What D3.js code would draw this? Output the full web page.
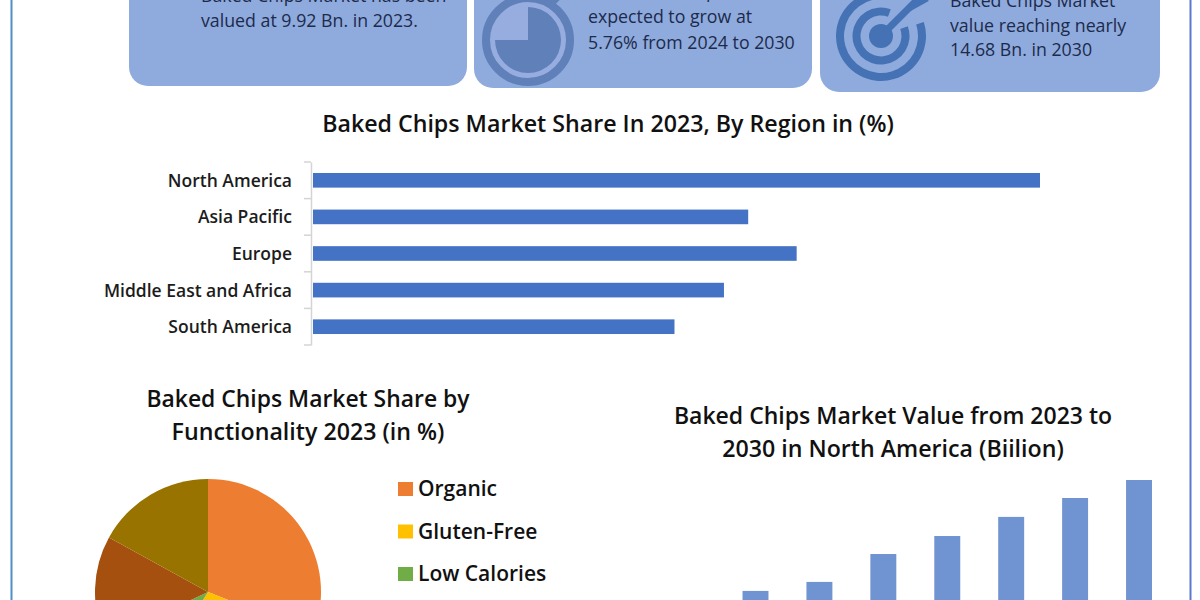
<!DOCTYPE html>
<html><head><meta charset="utf-8">
<script src="https://cdn.jsdelivr.net/npm/d3@7/dist/d3.min.js"></script>
<style>html,body{margin:0;background:#fff}svg{display:block}text{font-family:"Open Sans","Noto Sans",sans-serif}</style>
</head><body><svg id="c" width="1200" height="600"></svg>
<script>
const regions=["North America","Asia Pacific","Europe","Middle East and Africa","South America"];
const regionValues=[36,21.55,23.95,20.35,17.9];
const functionalityValues=[31,28,9,15,17];
const legendLabels=["Organic","Gluten-Free","Low Calories"];
const years=["2023","2024","2025","2026","2027","2028","2029","2030"];
const yearValues=[2.4,3.07,3.47,4.71,5.51,6.36,7.2,8.0];
const pieColors=["#ed7d31","#ffc000","#70ad47","#a5500f","#997300"];
const svg=d3.select("#c");
// frame
svg.append("line").attr("x1",11.5).attr("x2",11.5).attr("y1",0).attr("y2",600).attr("stroke","#4f8fc6").attr("stroke-width",2);
svg.append("line").attr("x1",1190.5).attr("x2",1190.5).attr("y1",0).attr("y2",600).attr("stroke","#5b78d0").attr("stroke-width",2);
// cards
const cards=[{x:129,w:338,b:86,lines:[["Baked Chips Market has been",2],["valued at 9.92 Bn. in 2023.",27]],tx:201},
{x:474,w:338,b:88,lines:[["The Baked Chips Market is",-2],["expected to grow at",23],["5.76% from 2024 to 2030",48.5]],tx:588},
{x:820,w:340,b:92,lines:[["Baked Chips Market",7],["value reaching nearly",32],["14.68 Bn. in 2030",56]],tx:950}];
cards.forEach(c=>{svg.append("rect").attr("x",c.x).attr("y",-30).attr("width",c.w).attr("height",c.b+30).attr("rx",19).attr("fill","#8faadc");
c.lines.forEach(l=>svg.append("text").attr("x",c.tx).attr("y",l[1]).attr("font-size",17.75).attr("fill","#1c2a4c").text(l[0]));});
// stopwatch
const g1=svg.append("g").attr("transform","translate(528,40)");
g1.append("line").attr("x1",24).attr("y1",-38).attr("x2",34).attr("y2",-48).attr("stroke","#5f80b9").attr("stroke-width",8);
g1.append("circle").attr("r",38).attr("fill","#97ade0");
g1.append("circle").attr("r",42).attr("fill","none").attr("stroke","#5f80b9").attr("stroke-width",8);
g1.append("path").attr("d",d3.arc()({innerRadius:0,outerRadius:33,startAngle:0,endAngle:Math.PI*1.5})).attr("fill","#5f80b9");
// target
const g2=svg.append("g").attr("transform","translate(881,36)");
const deg=Math.PI/180;
[[37,45,72,346],[20.5,28.5,70,380]].forEach(([r0,r1,a,b])=>g2.append("path").attr("d",d3.arc()({innerRadius:r0,outerRadius:r1,startAngle:a*deg,endAngle:b*deg})).attr("fill","#4472b4"));
g2.append("circle").attr("r",12).attr("fill","#4472b4");
g2.append("line").attr("x1",0).attr("y1",0).attr("x2",44).attr("y2",-44).attr("stroke","#4472b4").attr("stroke-width",7);
g2.append("line").attr("x1",28).attr("y1",-28).attr("x2",46).attr("y2",-38).attr("stroke","#4472b4").attr("stroke-width",7);
// titles
function title(x,y,t,s){svg.append("text").attr("x",x).attr("y",y).attr("text-anchor","middle").attr("font-size",s).attr("font-weight",600).attr("fill","#111").text(t);}
title(608,132,"Baked Chips Market Share In 2023, By Region in (%)",23.2);
title(308,407,"Baked Chips Market Share by",22.9);
title(308,440,"Functionality 2023 (in %)",23.2);
title(893,424,"Baked Chips Market Value from 2023 to",23);
title(893,457,"2030 in North America (Biilion)",23.2);
// region bars
const x=d3.scaleLinear().domain([0,36]).range([313,1040]);
const y=d3.scaleBand().domain(regions).range([162,345]).paddingInner(.6).paddingOuter(.3);
const ax=svg.append("g").attr("transform","translate(311,0)").call(d3.axisLeft(y).tickSize(0).tickPadding(19));
ax.selectAll("text").attr("font-size",17.5).attr("font-weight",600).attr("fill","#1c1c1c").attr("dy","0.37em");
ax.select(".domain").attr("stroke","#d4d4d4").attr("stroke-width",1.5);
const edges=[...regions.map(d=>y(d)-y.step()*.3),345];
svg.append("g").selectAll("line").data(edges).join("line").attr("x1",304).attr("x2",311).attr("y1",d=>d).attr("y2",d=>d).attr("stroke","#d4d4d4").attr("stroke-width",1.5);
svg.selectAll(".rb").data(regions).join("rect").attr("class","rb").attr("x",x(0)).attr("y",d=>y(d)).attr("height",y.bandwidth()).attr("width",(d,i)=>x(regionValues[i])-x(0)).attr("fill","#4472c4");
// pie
const pie=d3.pie().sort(null)(functionalityValues);
const arc=d3.arc().innerRadius(0).outerRadius(113);
svg.append("g").attr("transform","translate(208,592)").selectAll("path").data(pie).join("path").attr("d",arc).attr("fill",(d,i)=>pieColors[i]);
legendLabels.forEach((l,i)=>{const yy=489+42.5*i;
svg.append("rect").attr("x",398).attr("y",yy-7).attr("width",15).attr("height",14).attr("fill",pieColors[i]);
svg.append("text").attr("x",418).attr("y",yy+7).attr("font-size",21).attr("font-weight",600).attr("fill","#111").text(l);});
// column chart
const bx=d3.scaleBand().domain(years).range([678.6,1152]).paddingInner(.594).paddingOuter(0);
const by=d3.scaleLinear().domain([0,8]).range([660,480]);
svg.selectAll(".cb").data(years).join("rect").attr("class","cb").attr("x",d=>bx(d)).attr("width",bx.bandwidth()).attr("y",(d,i)=>by(yearValues[i])).attr("height",(d,i)=>660-by(yearValues[i])).attr("fill","#7094d1");
</script></body></html>
